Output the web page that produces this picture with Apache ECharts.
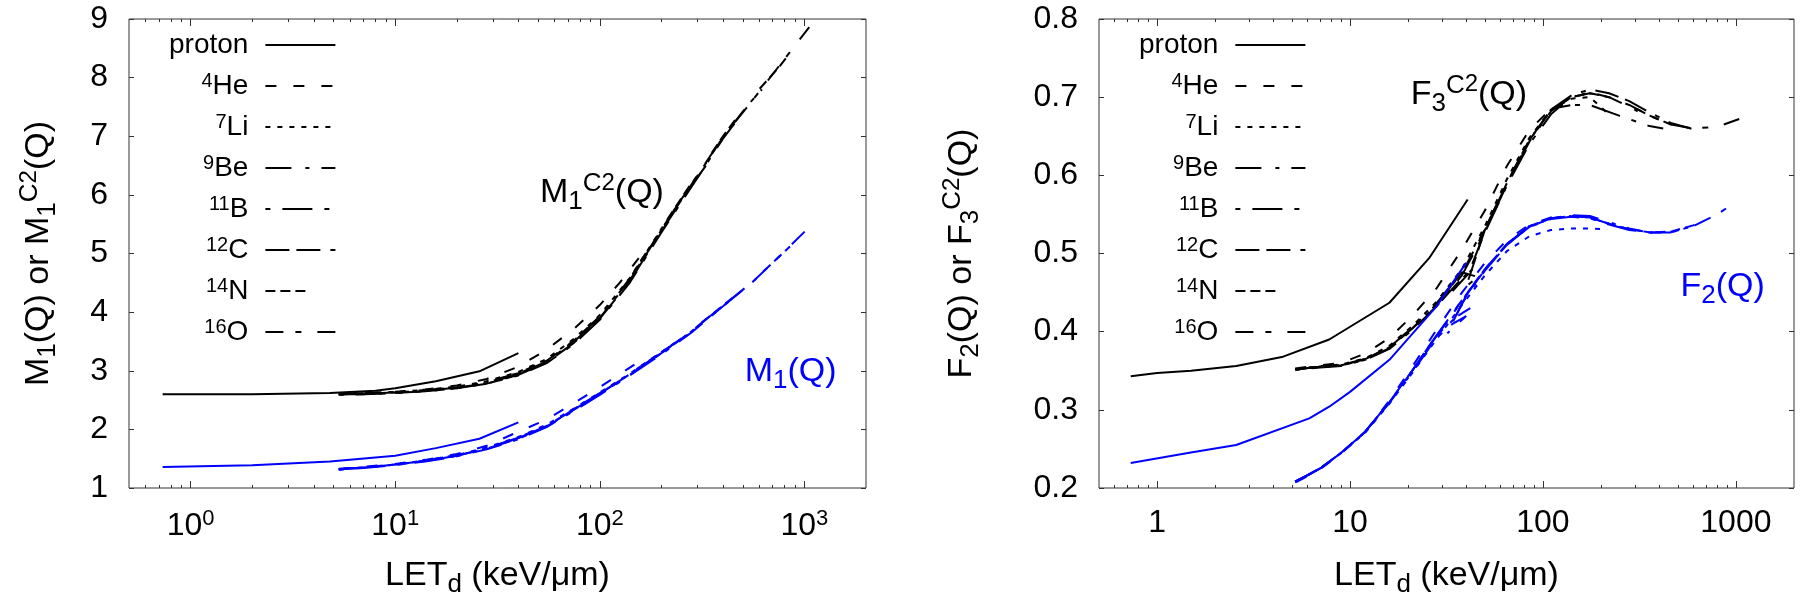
<!DOCTYPE html>
<html><head><meta charset="utf-8">
<script src="https://cdn.jsdelivr.net/npm/echarts@6/dist/echarts.min.js"></script>
<style>html,body{margin:0;padding:0;background:#fff}#c{width:1800px;height:600px}</style>
</head><body><div id="c"></div>
<script>
// ---------------- data ----------------
const ionNames = ['proton', '4He', '7Li', '9Be', '11B', '12C', '14N', '16O'];
const xMajorTicks = [1, 10, 100, 1000];
const xMinorTicks = [0.6, 0.7, 0.8, 0.9, 2, 3, 4, 5, 6, 7, 8, 9, 20, 30, 40, 50, 60, 70, 80, 90, 200, 300, 400, 500, 600, 700, 800, 900];

// Left panel: M1^C2(Q) (black), LETd [keV/um] vs value
const m1c2_proton = [[0.73,2.60],[1,2.60],[2,2.60],[4.8,2.62],[8,2.66],[10,2.70],[15.8,2.82],[25.8,2.99],[40,3.30]];
const m1c2_He = [[5.3,2.60],[7,2.61],[10,2.64],[14,2.68],[20,2.75],[28,2.86],[40,3.07],[55,3.36],[75,3.72],[100,4.12],[125,4.50],[155,4.92]];
const m1c2_Li = [[5.4,2.61],[7,2.62],[10,2.64],[14,2.67],[20,2.73],[28,2.82],[40,2.98],[55,3.20],[75,3.55],[100,3.95],[140,4.58],[200,5.42],[250,5.92]];
const m1c2_Be = [[5.3,2.60],[7,2.60],[10,2.62],[14,2.65],[20,2.70],[28,2.78],[40,2.93],[55,3.14],[75,3.48],[100,3.89],[140,4.52],[200,5.38],[280,6.15],[330,6.50]];
const m1c2_B = [[5.3,2.59],[7,2.60],[10,2.62],[14,2.65],[20,2.70],[28,2.78],[40,2.92],[55,3.13],[75,3.46],[100,3.87],[140,4.50],[200,5.36],[280,6.13],[400,6.96],[470,7.28]];
const m1c2_C = [[5.3,2.60],[7,2.61],[10,2.63],[14,2.66],[20,2.71],[28,2.79],[40,2.94],[55,3.16],[75,3.50],[100,3.90],[140,4.54],[200,5.40],[280,6.17],[400,6.98],[520,7.50],[620,7.80]];
const m1c2_N = [[5.3,2.61],[7,2.62],[10,2.64],[14,2.67],[20,2.72],[28,2.81],[40,2.96],[55,3.18],[75,3.52],[100,3.93],[140,4.57],[200,5.43],[280,6.20],[400,7.00],[560,7.68],[760,8.20],[850,8.42]];
const m1c2_O = [[5.3,2.60],[7,2.61],[10,2.63],[14,2.66],[20,2.71],[28,2.80],[40,2.95],[55,3.17],[75,3.51],[100,3.92],[140,4.55],[200,5.41],[280,6.18],[400,6.99],[560,7.62],[760,8.22],[1056,8.86]];

// Left panel: M1(Q) (blue)
const m1_proton = [[0.73,1.36],[2,1.39],[4.8,1.45],[10,1.55],[15.8,1.68],[25.8,1.84],[40,2.12]];
const m1_He = [[5.3,1.33],[7,1.36],[10,1.41],[14,1.48],[20,1.58],[28,1.72],[40,1.96],[55,2.17],[75,2.45],[100,2.72],[150,3.12]];
const m1_Li = [[5.4,1.32],[7,1.35],[10,1.40],[14,1.47],[20,1.56],[28,1.69],[40,1.87],[55,2.08],[75,2.36],[100,2.63],[140,2.95],[200,3.32],[250,3.55]];
const m1_Be = [[5.3,1.32],[7,1.35],[10,1.40],[14,1.46],[20,1.55],[28,1.67],[40,1.85],[55,2.06],[75,2.34],[100,2.61],[140,2.94],[200,3.30],[280,3.67],[330,3.88]];
const m1_B = [[5.3,1.31],[7,1.34],[10,1.39],[14,1.45],[20,1.54],[28,1.66],[40,1.83],[55,2.04],[75,2.32],[100,2.59],[140,2.92],[200,3.28],[280,3.65],[400,4.10],[470,4.30]];
const m1_C = [[5.3,1.32],[7,1.35],[10,1.40],[14,1.46],[20,1.55],[28,1.68],[40,1.85],[55,2.06],[75,2.34],[100,2.61],[140,2.94],[200,3.31],[280,3.67],[400,4.11],[560,4.52],[620,4.66]];
const m1_N = [[5.3,1.32],[7,1.35],[10,1.40],[14,1.47],[20,1.56],[28,1.68],[40,1.86],[55,2.07],[75,2.35],[100,2.62],[140,2.95],[200,3.31],[280,3.68],[400,4.11],[560,4.53],[760,4.96],[850,5.12]];
const m1_O = [[5.3,1.32],[7,1.35],[10,1.40],[14,1.46],[20,1.55],[28,1.67],[40,1.84],[55,2.05],[75,2.33],[100,2.60],[140,2.93],[200,3.30],[280,3.66],[400,4.10],[560,4.52],[760,4.96],[1056,5.45]];

// Right panel: F3^C2(Q) (black)
const f3c2_proton = [[0.73,0.343],[1,0.347],[1.5,0.350],[2.57,0.356],[4.5,0.368],[7.8,0.390],[16,0.437],[25.7,0.494],[40.7,0.569]];
const f3c2_He = [[5.2,0.353],[7,0.357],[9,0.360],[12,0.372],[16,0.392],[21,0.420],[28,0.455],[38,0.505],[50,0.555],[65,0.612],[85,0.658],[110,0.685],[140,0.690]];
const f3c2_Li = [[5.3,0.352],[7,0.356],[9,0.358],[12,0.366],[16,0.382],[21,0.407],[28,0.438],[38,0.480],[50,0.535],[65,0.595],[85,0.648],[110,0.684],[140,0.698],[175,0.700],[215,0.680]];
const f3c2_Be = [[5.2,0.352],[7,0.355],[9,0.357],[12,0.365],[16,0.380],[21,0.404],[28,0.432],[36,0.462],[44,0.482],[34,0.452],[42,0.480],[50,0.528],[65,0.588],[85,0.643],[110,0.682],[140,0.700],[175,0.706],[220,0.700],[280,0.688],[320,0.680]];
const f3c2_B = [[5.2,0.351],[7,0.354],[9,0.356],[12,0.364],[16,0.378],[21,0.402],[28,0.432],[38,0.472],[50,0.527],[65,0.587],[85,0.640],[110,0.678],[125,0.690],[175,0.690],[250,0.676],[356,0.663],[420,0.660]];
const f3c2_C = [[5.3,0.352],[7,0.355],[9,0.357],[12,0.364],[16,0.379],[21,0.404],[28,0.434],[38,0.476],[46,0.470],[40,0.458],[50,0.530],[65,0.590],[85,0.645],[110,0.684],[140,0.702],[175,0.710],[220,0.705],[280,0.695],[360,0.680],[460,0.667],[600,0.659]];
const f3c2_N = [[5.2,0.352],[7,0.355],[9,0.357],[12,0.365],[16,0.380],[21,0.405],[28,0.436],[38,0.477],[50,0.531],[65,0.591],[85,0.645],[110,0.683],[140,0.700],[175,0.705],[220,0.700],[280,0.690],[360,0.676],[460,0.665],[600,0.659],[735,0.657]];
const f3c2_O = [[5.2,0.352],[7,0.355],[9,0.357],[12,0.365],[16,0.380],[21,0.405],[28,0.435],[38,0.475],[50,0.530],[65,0.590],[85,0.645],[110,0.683],[140,0.700],[175,0.705],[220,0.700],[280,0.690],[360,0.676],[460,0.665],[600,0.660],[800,0.662],[1040,0.672]];

// Right panel: F2(Q) (blue)
const f2_proton = [[0.73,0.232],[1.47,0.245],[2.57,0.255],[6.15,0.289],[7.8,0.304],[10,0.323],[16,0.364],[28,0.432],[40,0.488]];
const f2_He = [[5.3,0.208],[7,0.224],[9,0.244],[12,0.272],[16,0.312],[21,0.355],[28,0.402],[38,0.450],[50,0.488],[65,0.517],[85,0.537],[110,0.546],[140,0.548]];
const f2_Li = [[5.3,0.209],[7,0.225],[9,0.245],[12,0.271],[16,0.308],[21,0.347],[28,0.390],[38,0.434],[50,0.472],[65,0.503],[85,0.522],[110,0.530],[140,0.532],[175,0.532],[215,0.531]];
const f2_Be = [[5.2,0.208],[7,0.225],[9,0.245],[12,0.272],[16,0.309],[21,0.348],[28,0.392],[34,0.410],[40,0.420],[32,0.398],[38,0.436],[50,0.478],[65,0.511],[85,0.534],[110,0.545],[140,0.549],[175,0.548],[220,0.540],[280,0.532],[320,0.529]];
const f2_B = [[5.2,0.208],[7,0.225],[9,0.245],[12,0.272],[16,0.310],[21,0.350],[28,0.394],[38,0.439],[50,0.479],[65,0.511],[85,0.534],[110,0.544],[140,0.547],[175,0.545],[220,0.537],[280,0.530],[360,0.527],[420,0.527]];
const f2_C = [[5.2,0.208],[7,0.225],[9,0.245],[12,0.272],[16,0.310],[21,0.350],[28,0.395],[36,0.420],[42,0.430],[35,0.418],[40,0.446],[50,0.480],[65,0.512],[85,0.535],[110,0.545],[140,0.548],[175,0.546],[220,0.538],[280,0.531],[360,0.527],[460,0.527],[600,0.535]];
const f2_N = [[5.2,0.208],[7,0.225],[9,0.245],[12,0.272],[16,0.310],[21,0.350],[28,0.395],[38,0.440],[50,0.480],[65,0.512],[85,0.535],[110,0.545],[140,0.548],[175,0.546],[220,0.538],[280,0.531],[360,0.527],[460,0.528],[600,0.536],[790,0.548]];
const f2_O = [[5.2,0.208],[7,0.225],[9,0.245],[12,0.272],[16,0.310],[21,0.350],[28,0.395],[38,0.440],[50,0.480],[65,0.512],[85,0.535],[110,0.545],[140,0.548],[175,0.546],[220,0.538],[280,0.531],[360,0.527],[460,0.527],[600,0.535],[800,0.550],[1040,0.569]];

// annotation anchors (data coordinates)
const annM1C2 = [50.7, 6.03];
const annM1 = [508, 2.98];
const annF3C2 = [20.5, 0.703];
const annF2 = [513, 0.457];

// ---------------- styles ----------------
const FONT = 'Liberation Sans';
const BLACK = '#000000';
const BLUE = '#0000ff';
const ionDash = ['solid', [11, 17], [5, 7], [26, 14, 4, 12], [5, 12, 30, 12], [24, 7, 24, 10, 5, 10], [10, 5, 10, 5, 10, 40], [18, 12, 6, 16]];

const leftBlack = [m1c2_proton, m1c2_He, m1c2_Li, m1c2_Be, m1c2_B, m1c2_C, m1c2_N, m1c2_O];
const leftBlue = [m1_proton, m1_He, m1_Li, m1_Be, m1_B, m1_C, m1_N, m1_O];
const rightBlack = [f3c2_proton, f3c2_He, f3c2_Li, f3c2_Be, f3c2_B, f3c2_C, f3c2_N, f3c2_O];
const rightBlue = [f2_proton, f2_He, f2_Li, f2_Be, f2_B, f2_C, f2_N, f2_O];

function richBig(color, size) {
  const s = size;
  return {
    m: {fontFamily: FONT, fontSize: s, lineHeight: 44, color: color},
    sub: {fontFamily: FONT, fontSize: Math.round(s * 0.76), lineHeight: 22, verticalAlign: 'bottom', color: color},
    sup: {fontFamily: FONT, fontSize: Math.round(s * 0.76), lineHeight: 10, verticalAlign: 'top', color: color},
    ss: {fontFamily: FONT, fontSize: Math.round(s * 0.7), lineHeight: 26, verticalAlign: 'top', color: color}
  };
}

function lineSeries(name, data, dash, color, xi, yi) {
  return {
    type: 'line', name: name, data: data, xAxisIndex: xi, yAxisIndex: yi,
    symbol: 'none', showSymbol: false, silent: true, animation: false, z: 3,
    lineStyle: {color: color, width: 2, type: dash}, itemStyle: {color: color}
  };
}

function annotation(pos, text, color, xi, yi) {
  return {
    type: 'scatter', data: [pos], xAxisIndex: xi, yAxisIndex: yi, symbol: 'circle', symbolSize: 1,
    silent: true, animation: false, z: 5,
    itemStyle: {color: 'rgba(0,0,0,0)'},
    label: {show: true, position: 'right', distance: 0, formatter: text, color: color, opacity: 1,
      textBorderWidth: 0, fontFamily: FONT, fontSize: 34, lineHeight: 44, rich: richBig(color, 34)}
  };
}

const series = [];
ionNames.forEach((n, i) => {
  series.push(lineSeries(n, leftBlack[i], ionDash[i], BLACK, 0, 0));
});
ionNames.forEach((n, i) => {
  series.push(lineSeries(n + ' M1', leftBlue[i], ionDash[i], BLUE, 0, 0));
});
ionNames.forEach((n, i) => {
  series.push(lineSeries(n, rightBlack[i], ionDash[i], BLACK, 4, 2));
});
ionNames.forEach((n, i) => {
  series.push(lineSeries(n + ' F2', rightBlue[i], ionDash[i], BLUE, 4, 2));
});
series.push(annotation(annM1C2, '{m|M}{sub|1}{sup|C}{ss|2}{m|(Q)}', BLACK, 0, 0));
series.push(annotation(annM1, '{m|M}{sub|1}{m|(Q)}', BLUE, 0, 0));
series.push(annotation(annF3C2, '{m|F}{sub|3}{sup|C}{ss|2}{m|(Q)}', BLACK, 4, 2));
series.push(annotation(annF2, '{m|F}{sub|2}{m|(Q)}', BLUE, 4, 2));

const AXIS_COLOR = '#333';

function xAxes(gridIndex, labelFmt, labelRich, labelMargin) {
  const common = {type: 'log', logBase: 10, min: 0.5, max: 2000, gridIndex: gridIndex, splitLine: {show: false},
    axisLine: {show: false}, nameMoveOverlap: false};
  return [
    Object.assign({}, common, {
      position: 'bottom',
      name: '{m|LET}{sub|d}{m| (keV/\u03bcm)}', nameLocation: 'middle', nameGap: 66,
      nameTextStyle: {fontFamily: FONT, fontSize: 34, lineHeight: 44, color: '#000', rich: richBig('#000', 34)},
      axisTick: {show: true, inside: true, length: 7, customValues: xMajorTicks, lineStyle: {color: AXIS_COLOR}},
      axisLabel: {show: true, customValues: xMajorTicks, margin: labelMargin, formatter: labelFmt,
        fontFamily: FONT, fontSize: 31, lineHeight: 36, color: '#000', rich: labelRich}
    }),
    Object.assign({}, common, {
      position: 'bottom',
      axisTick: {show: true, inside: true, length: 3, customValues: xMinorTicks, lineStyle: {color: AXIS_COLOR}},
      axisLabel: {show: false}
    }),
    Object.assign({}, common, {
      position: 'top',
      axisTick: {show: true, inside: true, length: 7, customValues: xMajorTicks, lineStyle: {color: AXIS_COLOR}},
      axisLabel: {show: false}
    }),
    Object.assign({}, common, {
      position: 'top',
      axisTick: {show: true, inside: true, length: 3, customValues: xMinorTicks, lineStyle: {color: AXIS_COLOR}},
      axisLabel: {show: false}
    })
  ];
}

function yAxes(gridIndex, min, max, interval, name, nameGap, labelFmt) {
  const common = {type: 'value', min: min, max: max, interval: interval, gridIndex: gridIndex,
    splitLine: {show: false}, axisLine: {show: false}, nameMoveOverlap: false};
  return [
    Object.assign({}, common, {
      position: 'left',
      name: name, nameLocation: 'middle', nameGap: nameGap,
      nameTextStyle: {fontFamily: FONT, fontSize: 34, lineHeight: 44, color: '#000', rich: richBig('#000', 34)},
      axisTick: {show: true, inside: true, length: 5, lineStyle: {color: AXIS_COLOR}},
      axisLabel: {show: true, margin: 21, formatter: labelFmt, fontFamily: FONT, fontSize: 32, color: '#000'}
    }),
    Object.assign({}, common, {
      position: 'right',
      axisTick: {show: true, inside: true, length: 5, lineStyle: {color: AXIS_COLOR}},
      axisLabel: {show: false}
    })
  ];
}

const leftXFmt = v => '{m|10}{sup|' + Math.round(Math.log10(v)) + '}';
const leftXRich = {
  m: {fontFamily: FONT, fontSize: 32, lineHeight: 36, color: '#000'},
  sup: {fontFamily: FONT, fontSize: 22, lineHeight: 8, verticalAlign: 'top', color: '#000'}
};
const rightXFmt = v => '{m|' + String(Math.round(v)) + '}';
const rightXRich = {m: {fontFamily: FONT, fontSize: 32, lineHeight: 36, color: '#000'}};

const legendCommon = {
  orient: 'vertical', align: 'right', itemWidth: 70, itemHeight: 14, itemGap: 11, padding: 0,
  selectedMode: false,
  itemStyle: {opacity: 0, borderWidth: 0},
  data: ionNames,
  formatter: function (name) {
    const m = name.match(/^(\d+)(.+)$/);
    return m ? '{sup|' + m[1] + '}{t|' + m[2] + '}' : '{t|' + name + '}';
  },
  textStyle: {fontFamily: FONT, fontSize: 28, lineHeight: 30, color: '#000', padding: [0, 12, 0, 0],
    rich: {
      t: {fontFamily: FONT, fontSize: 28, lineHeight: 30, color: '#000'},
      sup: {fontFamily: FONT, fontSize: 20, lineHeight: 14, verticalAlign: 'top', color: '#000'}
    }}
};

const option = {
  backgroundColor: '#ffffff',
  animation: false,
  grid: [
    {left: 129, top: 19, right: 934, bottom: 112, show: true, borderColor: AXIS_COLOR, borderWidth: 1, containLabel: false, outerBoundsMode: 'none'},
    {left: 1099, top: 19, right: 6, bottom: 112, show: true, borderColor: AXIS_COLOR, borderWidth: 1, containLabel: false, outerBoundsMode: 'none'}
  ],
  legend: [
    Object.assign({}, legendCommon, {left: 169, top: 30}),
    Object.assign({}, legendCommon, {left: 1139, top: 30})
  ],
  xAxis: xAxes(0, leftXFmt, leftXRich, 20).concat(xAxes(1, rightXFmt, rightXRich, 17)),
  yAxis: yAxes(0, 1, 9, 1, '{m|M}{sub|1}{m|(Q) or M}{sub|1}{sup|C}{ss|2}{m|(Q)}', 68, v => String(v))
    .concat(yAxes(1, 0.2, 0.8, 0.1, '{m|F}{sub|2}{m|(Q) or F}{sub|3}{sup|C}{ss|2}{m|(Q)}', 115, v => (Math.round(v * 10) / 10).toFixed(1))),
  series: series
};

const chart = echarts.init(document.getElementById('c'), null, {renderer: 'canvas'});
chart.setOption(option);
</script>
</body></html>
